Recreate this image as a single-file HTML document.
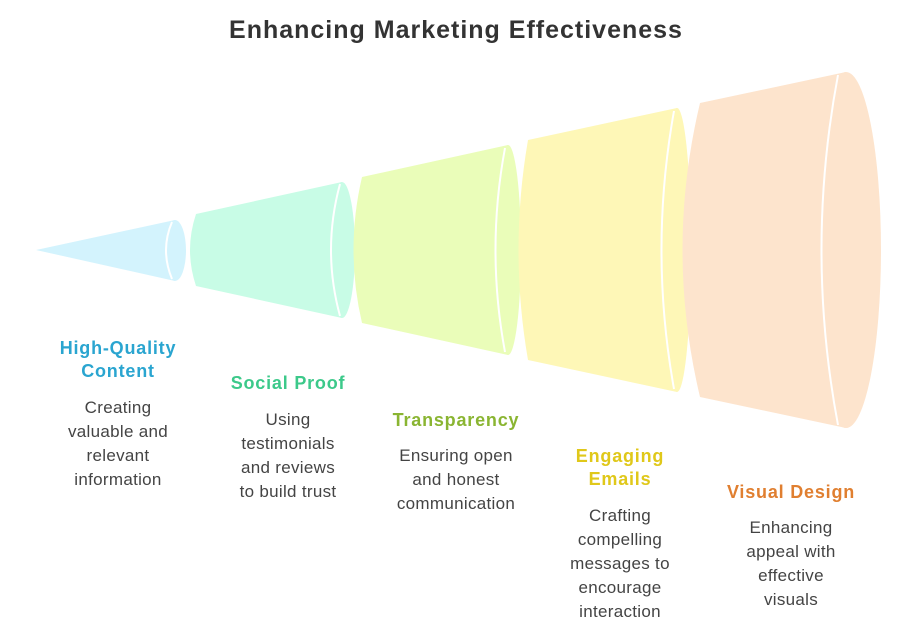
<!DOCTYPE html>
<html><head><style>
body{margin:0;background:#fff;width:912px;height:632px;overflow:hidden;font-family:"Liberation Sans",sans-serif}
.t{position:absolute;width:200px;text-align:center;line-height:24px}
.h{font-weight:bold;font-size:18px;line-height:23px;letter-spacing:0.8px}
.b{font-size:17px;color:#444;letter-spacing:0.3px}
</style></head><body>
<svg width="912" height="632" style="position:absolute;left:0;top:0">
<text x="456" y="38" text-anchor="middle" font-family="Liberation Sans" font-weight="bold" font-size="25" letter-spacing="1" fill="#333">Enhancing Marketing Effectiveness</text>
<g stroke="none">
<path d="M36 250 L175 220 L175 281 Z" fill="#d3f3fd"/>
<ellipse cx="175" cy="250.5" rx="11" ry="30.5" fill="#d3f3fd"/>
<path d="M172 222 Q160 250 172 279" fill="none" stroke="#fff" stroke-width="2"/>

<path d="M196 214 L342 182 L342 318 L196 286 Q184 250 196 214 Z" fill="#c8fce6"/>
<ellipse cx="342" cy="250" rx="13" ry="68" fill="#c8fce6"/>
<path d="M340 184 Q322 250 340 316" fill="none" stroke="#fff" stroke-width="2"/>

<path d="M362 177 L508 145 L508 355 L362 323 Q345 250 362 177 Z" fill="#eafdb9"/>
<ellipse cx="508" cy="250" rx="13" ry="105" fill="#eafdb9"/>
<path d="M505 148 Q486 250 505 352" fill="none" stroke="#fff" stroke-width="2"/>

<path d="M528 140 L677 108 L677 392 L528 360 Q509 250 528 140 Z" fill="#fef7b7"/>
<ellipse cx="677" cy="250" rx="14" ry="142" fill="#fef7b7"/>
<path d="M674 111 Q649 250 674 389" fill="none" stroke="#fff" stroke-width="2"/>

<path d="M700 103 L846 72 L846 428 L700 397 Q665 250 700 103 Z" fill="#fde4cd"/>
<ellipse cx="846" cy="250" rx="35" ry="178" fill="#fde4cd"/>
<path d="M838 75 Q805 250 838 425" fill="none" stroke="#fff" stroke-width="2"/>
</g>
</svg>
<div class="t h" style="left:18px;top:337px;color:#2aa5d0">High-Quality<br>Content</div>
<div class="t b" style="left:18px;top:396px">Creating<br>valuable and<br>relevant<br>information</div>
<div class="t h" style="left:188px;top:372px;color:#3cc98a">Social Proof</div>
<div class="t b" style="left:188px;top:408px">Using<br>testimonials<br>and reviews<br>to build trust</div>
<div class="t h" style="left:356px;top:409px;color:#8ab532">Transparency</div>
<div class="t b" style="left:356px;top:444px">Ensuring open<br>and honest<br>communication</div>
<div class="t h" style="left:520px;top:445px;color:#e0c81a">Engaging<br>Emails</div>
<div class="t b" style="left:520px;top:504px">Crafting<br>compelling<br>messages to<br>encourage<br>interaction</div>
<div class="t h" style="left:691px;top:481px;color:#e07f30">Visual Design</div>
<div class="t b" style="left:691px;top:516px">Enhancing<br>appeal with<br>effective<br>visuals</div>
</body></html>
